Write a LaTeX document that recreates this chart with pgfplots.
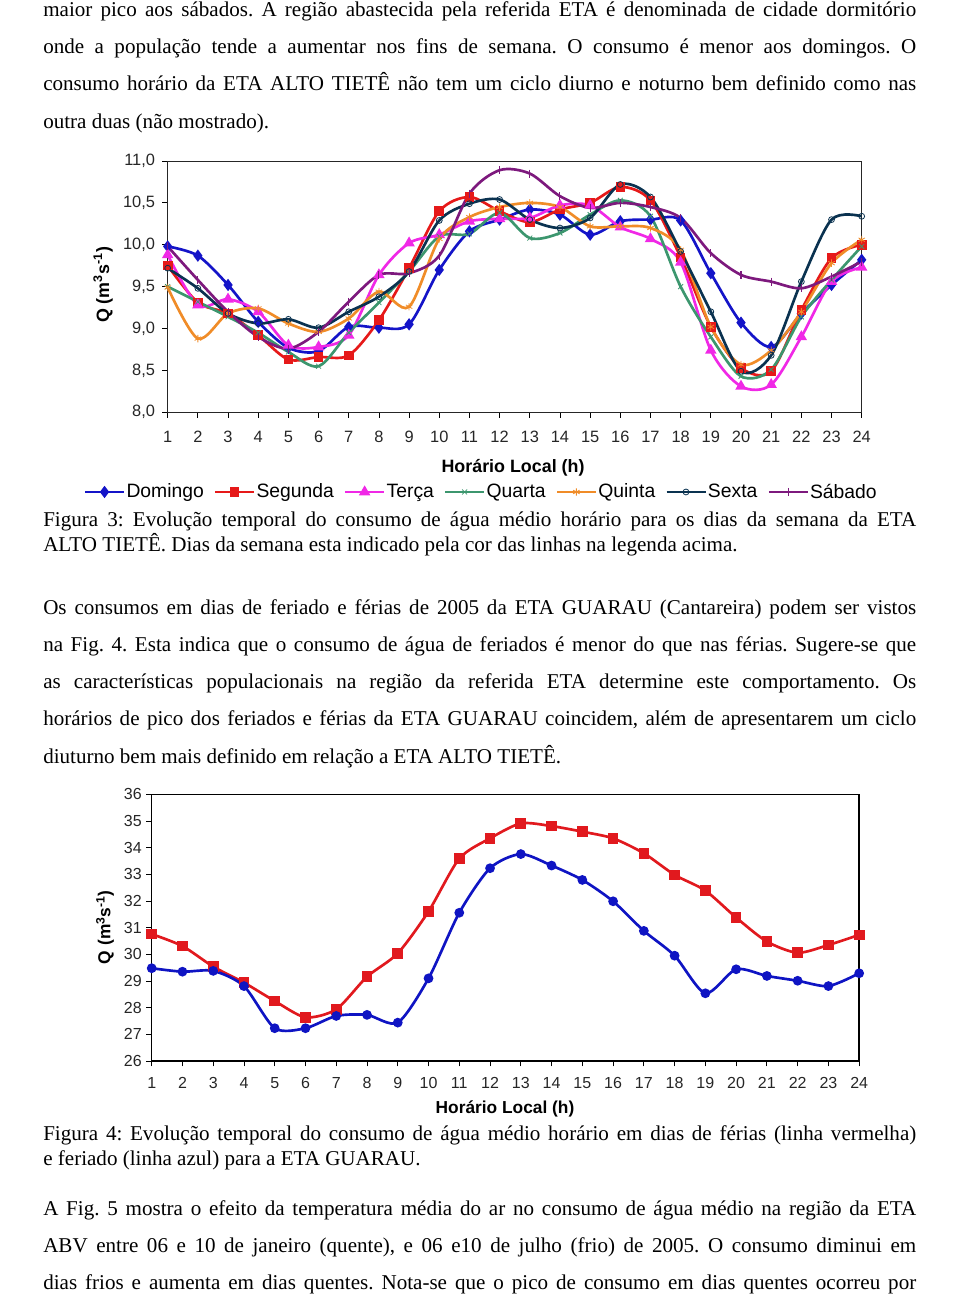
\documentclass[border=0pt]{standalone}
\usepackage{fontspec}
\setmainfont{Liberation Serif}
\setsansfont{Liberation Sans}
\usepackage{pgfplots}
\usepackage{pgfplotstable}
\pgfplotsset{compat=1.18}
\frenchspacing
\definecolor{cDom}{RGB}{20,20,200}
\definecolor{cSeg}{RGB}{230,25,25}
\definecolor{cTer}{RGB}{240,40,230}
\definecolor{cQua}{RGB}{60,150,110}
\definecolor{cQui}{RGB}{240,140,40}
\definecolor{cSex}{RGB}{10,50,80}
\definecolor{cSab}{RGB}{125,25,125}
\definecolor{cRed}{RGB}{225,25,30}
\definecolor{cBlue}{RGB}{15,20,195}
\newcommand{\bodyfont}{\fontsize{15.8}{18}\selectfont}
\newcommand{\jl}[2]{\node[anchor=base west,inner sep=0pt] at (43,-#1) {\bodyfont\makebox[654.75pt][s]{#2}};}
\newcommand{\pl}[2]{\node[anchor=base west,inner sep=0pt] at (43,-#1) {\bodyfont #2};}

\pgfplotstableread{
h dom seg ter qua qui sex sab
1 9.98 9.75 9.88 9.50 9.49 9.72 9.98
2 9.87 9.31 9.28 9.32 8.88 9.48 9.58
3 9.52 9.18 9.35 9.14 9.18 9.18 9.20
4 9.08 8.92 9.20 8.95 9.24 9.06 8.90
5 8.77 8.63 8.80 8.72 9.06 9.11 8.76
6 8.73 8.66 8.78 8.55 8.96 9.01 8.96
7 9.02 8.68 8.92 8.95 9.12 9.20 9.32
8 9.01 9.10 9.64 9.31 9.44 9.38 9.64
9 9.05 9.72 10.02 9.68 9.26 9.68 9.66
10 9.70 10.40 10.12 10.10 10.07 10.29 9.87
11 10.16 10.57 10.28 10.13 10.33 10.49 10.61
12 10.30 10.40 10.31 10.38 10.45 10.54 10.89
13 10.42 10.27 10.32 10.08 10.50 10.30 10.85
14 10.36 10.42 10.47 10.14 10.45 10.20 10.58
15 10.12 10.50 10.47 10.36 10.22 10.32 10.44
16 10.28 10.69 10.21 10.53 10.22 10.72 10.50
17 10.30 10.53 10.07 10.34 10.20 10.57 10.45
18 10.29 9.85 9.79 9.50 9.94 9.92 10.32
19 9.66 9.02 8.74 8.90 9.02 9.20 9.90
20 9.07 8.53 8.31 8.43 8.57 8.49 9.64
21 8.78 8.49 8.33 8.51 8.74 8.68 9.56
22 9.18 9.22 8.90 9.14 9.20 9.56 9.48
23 9.52 9.84 9.56 9.58 9.78 10.30 9.62
24 9.82 10.00 9.73 9.98 10.06 10.34 9.80
}\tabA

\pgfplotstableread{
h ferias feriado
1 30.76 29.48
2 30.31 29.35
3 29.54 29.38
4 28.94 28.81
5 28.25 27.23
6 27.64 27.23
7 27.94 27.69
8 29.16 27.73
9 30.04 27.44
10 31.61 29.10
11 33.59 31.56
12 34.35 33.23
13 34.91 33.76
14 34.81 33.33
15 34.60 32.79
16 34.35 31.99
17 33.79 30.88
18 32.98 29.95
19 32.39 28.54
20 31.38 29.44
21 30.48 29.19
22 30.06 29.01
23 30.35 28.81
24 30.73 29.29
}\tabB

\begin{document}
\begin{tikzpicture}
\begin{scope}[x=0.75pt,y=0.75pt]
\path[use as bounding box] (0,0) rectangle (960,-1297);

% ---- text ----
\jl{16}{maior pico aos sábados. A região abastecida pela referida ETA é denominada de cidade dormitório}
\jl{53.3}{onde a população tende a aumentar nos fins de semana. O consumo é menor aos domingos. O}
\jl{90.7}{consumo horário da ETA ALTO TIETÊ não tem um ciclo diurno e noturno bem definido como nas}
\pl{128.2}{outra duas (não mostrado).}

\jl{526}{Figura 3: Evolução temporal do consumo de água médio horário para os dias da semana da ETA}
\pl{551}{ALTO TIETÊ. Dias da semana esta indicado pela cor das linhas na legenda acima.}

\jl{614}{Os consumos em dias de feriado e férias de 2005 da ETA GUARAU (Cantareira) podem ser vistos}
\jl{651.3}{na Fig. 4. Esta indica que o consumo de água de feriados é menor do que nas férias. Sugere-se que}
\jl{688.6}{as características populacionais na região da referida ETA determine este comportamento. Os}
\jl{725.9}{horários de pico dos feriados e férias da ETA GUARAU coincidem, além de apresentarem um ciclo}
\pl{763.2}{diuturno bem mais definido em relação a ETA ALTO TIETÊ.}

\jl{1140}{Figura 4: Evolução temporal do consumo de água médio horário em dias de férias (linha vermelha)}
\pl{1165}{e feriado (linha azul) para a ETA GUARAU.}

\jl{1215}{A Fig. 5 mostra o efeito da temperatura média do ar no consumo de água médio na região da ETA}
\jl{1252.3}{ABV entre 06 e 10 de janeiro (quente), e 06 e10 de julho (frio) de 2005. O consumo diminui em}
\jl{1289.6}{dias frios e aumenta em dias quentes. Nota-se que o pico de consumo em dias quentes ocorreu por}
\end{scope}

% ---- chart 1 ----
\begin{axis}[
  at={(125.775pt,-309.225pt)}, anchor=south west,
  scale only axis, width=520.5pt, height=188.5pt,
  xmin=1, xmax=24, ymin=8, ymax=11,
  xtick={1,...,24}, ytick={8,8.5,...,11},
  tick align=outside, tick pos=left,
  major tick length=4pt,
  axis line style={black!85, line width=0.7pt},
  tick style={black, line width=0.6pt},
  ticklabel style={font=\sffamily\fontsize{12.3}{14}\selectfont, black!85},
  x tick label style={yshift=-6.5pt},
  y tick label style={xshift=-2pt},
  /pgf/number format/assume math mode=true,
  y tick label style={/pgf/number format/fixed, /pgf/number format/fixed zerofill, /pgf/number format/precision=1, /pgf/number format/use comma},
  xlabel={Horário Local (h)},
  xlabel style={font=\sffamily\bfseries\fontsize{13.4}{15}\selectfont, at={(axis description cs:0.4976,-0.219)}, anchor=center},
  ylabel={Q (m\textsuperscript{3}s\textsuperscript{-1})},
  ylabel style={font=\sffamily\bfseries\fontsize{13.4}{15}\selectfont, at={(axis description cs:-0.093,0.507)}, anchor=center},
  legend columns=-1,
  legend style={at={(0.4514,-0.317)}, anchor=center, draw=none, fill=none,
    font=\sffamily\fontsize{14.5}{16}\selectfont,
    nodes={inner sep=1pt},
    /tikz/every odd column/.append style={column sep=0pt},
    /tikz/every even column/.append style={column sep=6.5pt}},
  legend image code/.code={\draw[mark repeat=2,mark phase=2,#1] plot coordinates {(0pt,0pt) (14.5pt,0pt) (29pt,0pt)};},
  every axis plot/.append style={line width=2pt, smooth, tension=0.5},
]
\addplot[cDom, mark=diamond*, mark size=3pt, mark options={solid}] table[x=h,y=dom]{\tabA};
\addlegendentry{Domingo}
\addplot[cSeg, mark=square*, mark size=2.6pt] table[x=h,y=seg]{\tabA};
\addlegendentry{Segunda}
\addplot[cTer, mark=triangle*, mark size=3pt] table[x=h,y=ter]{\tabA};
\addlegendentry{Terça}
\addplot[cQua, mark=x, mark size=2.6pt, mark options={line width=0.6pt}] table[x=h,y=qua]{\tabA};
\addlegendentry{Quarta}
\addplot[cQui, mark=asterisk, mark size=2.8pt, mark options={line width=0.6pt}] table[x=h,y=qui]{\tabA};
\addlegendentry{Quinta}
\addplot[cSex, mark=o, mark size=2.2pt, mark options={line width=0.6pt, fill=white}] table[x=h,y=sex]{\tabA};
\addlegendentry{Sexta}
\addplot[cSab, mark=|, mark size=3pt, mark options={line width=0.8pt}] table[x=h,y=sab]{\tabA};
\addlegendentry{Sábado}
\end{axis}

% ---- chart 2 ----
\begin{axis}[
  at={(113.775pt,-795.75pt)}, anchor=south west,
  scale only axis, width=530.6pt, height=200pt,
  xmin=1, xmax=24, ymin=26, ymax=36,
  xtick={1,...,24}, ytick={26,...,36},
  tick align=outside, tick pos=left,
  major tick length=4pt,
  axis line style={black, line width=1.1pt},
  tick style={black, line width=0.6pt},
  ticklabel style={font=\sffamily\fontsize{12}{14}\selectfont, black!85},
  x tick label style={yshift=-4.5pt},
  /pgf/number format/assume math mode=true,
  xlabel={Horário Local (h)},
  xlabel style={font=\sffamily\bfseries\fontsize{13}{15}\selectfont, at={(axis description cs:0.4994,-0.181)}, anchor=center},
  ylabel={Q (m\textsuperscript{3}s\textsuperscript{-1})},
  ylabel style={font=\sffamily\bfseries\fontsize{13}{15}\selectfont, at={(axis description cs:-0.066,0.502)}, anchor=center},
  every axis plot/.append style={line width=2pt, smooth, tension=0.45},
]
\addplot[cRed, mark=square*, mark size=3pt] table[x=h,y=ferias]{\tabB};
\addplot[cBlue, mark=*, mark size=2.6pt] table[x=h,y=feriado]{\tabB};
\end{axis}
\end{tikzpicture}
\end{document}
